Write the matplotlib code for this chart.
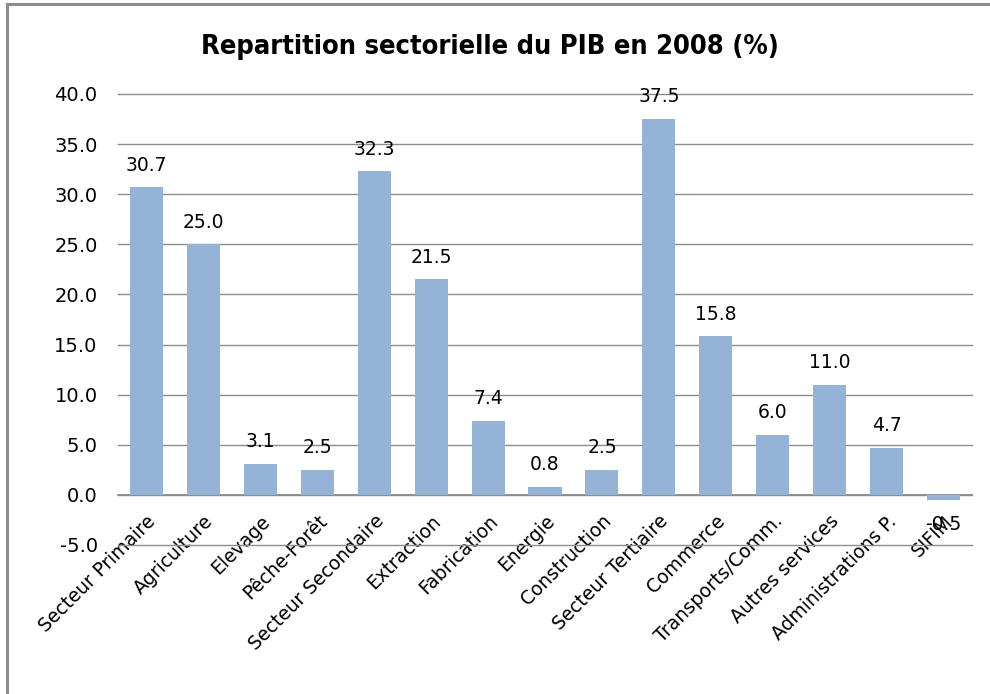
import matplotlib
matplotlib.use('Agg')
import matplotlib.pyplot as plt
from matplotlib.patches import Rectangle

# data
categories = ['Secteur Primaire', 'Agriculture', 'Elevage', 'Pêche-Forêt',
              'Secteur Secondaire', 'Extraction', 'Fabrication', 'Energie',
              'Construction', 'Secteur Tertiaire', 'Commerce', 'Transports/Comm.',
              'Autres services', 'Administrations P.', 'SIFIM']
values = [30.7, 25.0, 3.1, 2.5, 32.3, 21.5, 7.4, 0.8, 2.5, 37.5, 15.8, 6.0, 11.0, 4.7, -0.5]
yticks = [-5, 0, 5, 10, 15, 20, 25, 30, 35, 40]

plt.rcParams['font.family'] = ['DejaVu Sans']

fig = plt.figure(figsize=(9.9, 6.94), dpi=100)
ax = fig.add_axes([0.119, 0.2147, 0.863, 0.65])

x = list(range(len(categories)))
ax.bar(x, values, width=0.58, color='#95B3D7', zorder=3)

for xi, v in zip(x, values):
    if v >= 0:
        ax.annotate('%.1f' % v, (xi, v), xytext=(0, 9), textcoords='offset points',
                    ha='center', va='bottom', fontsize=13.5, zorder=4)
    else:
        ax.annotate('%.1f' % v, (xi, v), xytext=(0, -11), textcoords='offset points',
                    ha='center', va='top', fontsize=13.5, zorder=4)

ax.set_ylim(-5, 40)
ax.set_xlim(-0.5, len(categories) - 0.5)
ax.set_yticks(yticks)
ax.set_yticklabels(['%.1f' % t for t in yticks], fontsize=14)
ax.yaxis.grid(True, color='#8C8C8C', linewidth=1, zorder=0)
for gl in ax.get_ygridlines():
    gl.set_clip_on(False)
ax.tick_params(axis='y', length=0, pad=14.5)
ax.tick_params(axis='x', length=0, pad=12)

for s in ['top', 'right', 'left']:
    ax.spines[s].set_visible(False)
ax.spines['bottom'].set_position(('data', 0))
ax.spines['bottom'].set_color('#8C8C8C')
ax.spines['bottom'].set_linewidth(1.3)
ax.spines['bottom'].set_zorder(2)

ax.set_xticks(x)
ax.set_xticklabels(categories, rotation=45, ha='right', rotation_mode='anchor', fontsize=13.5)

fig.text(0.495, 0.932, 'Repartition sectorielle du PIB en 2008 (%)', ha='center', va='center',
         fontsize=19.5, fontweight='bold', fontstretch='condensed')

# chart frame (top and left edges visible)
fig.patches.append(Rectangle((0.007, -0.05), 1.1, 1.044, transform=fig.transFigure,
                             fill=False, edgecolor='#8C8C8C', linewidth=2.2))

fig.savefig('out.png', dpi=100)
